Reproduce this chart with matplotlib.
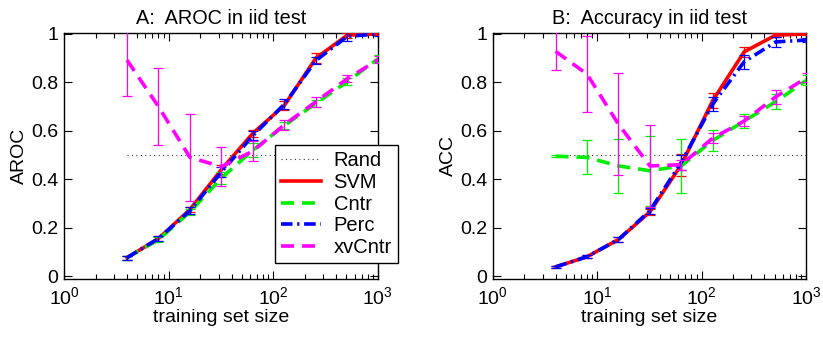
import matplotlib
matplotlib.use("Agg")
import matplotlib.pyplot as plt
from matplotlib.ticker import LogLocator, NullFormatter

plt.rcParams['font.family'] = ['Liberation Sans', 'DejaVu Sans']
plt.rcParams['mathtext.fontset'] = 'custom'
plt.rcParams['mathtext.rm'] = 'Liberation Sans'
plt.rcParams['mathtext.it'] = 'Liberation Sans'

sizes = [4, 8, 16, 32, 64, 128, 256, 512, 1024]

# Panel A: AROC
a_svm = [0.076, 0.155, 0.275, 0.44, 0.59, 0.705, 0.90, 0.995, 1.0]
a_svm_err = [0.008, 0.010, 0.012, 0.02, 0.015, 0.02, 0.02, 0.01, 0.005]
a_cntr = [0.076, 0.150, 0.265, 0.405, 0.52, 0.622, 0.713, 0.803, 0.90]
a_cntr_err = [0.008, 0.010, 0.012, 0.025, 0.03, 0.015, 0.015, 0.015, 0.015]
a_perc = [0.076, 0.155, 0.27, 0.43, 0.58, 0.71, 0.89, 0.99, 1.0]
a_perc_err = [0.008, 0.010, 0.015, 0.02, 0.02, 0.02, 0.015, 0.02, 0.01]
a_xv = [0.892, 0.70, 0.49, 0.452, 0.516, 0.625, 0.72, 0.815, 0.895]
a_xv_err = [0.148, 0.16, 0.18, 0.08, 0.042, 0.02, 0.02, 0.015, 0.015]

# Panel B: Accuracy
b_svm = [0.038, 0.08, 0.151, 0.265, 0.46, 0.725, 0.926, 0.995, 1.0]
b_svm_err = [0.005, 0.006, 0.01, 0.012, 0.045, 0.03, 0.02, 0.008, 0.005]
b_cntr = [0.495, 0.49, 0.455, 0.435, 0.455, 0.56, 0.64, 0.72, 0.81]
b_cntr_err = [0.004, 0.07, 0.11, 0.145, 0.11, 0.045, 0.03, 0.03, 0.02]
b_perc = [0.038, 0.08, 0.151, 0.27, 0.47, 0.71, 0.885, 0.967, 0.975]
b_perc_err = [0.005, 0.006, 0.01, 0.012, 0.03, 0.03, 0.03, 0.02, 0.01]
b_xv = [0.928, 0.834, 0.627, 0.455, 0.46, 0.57, 0.64, 0.74, 0.82]
b_xv_err = [0.078, 0.158, 0.21, 0.168, 0.02, 0.02, 0.02, 0.03, 0.02]

rand_level = 0.5
labels = ['Rand', 'SVM', 'Cntr', 'Perc', 'xvCntr']
titles = ['A:  AROC in iid test', 'B:  Accuracy in iid test']
ylabels = ['AROC', 'ACC']

fig = plt.figure(figsize=(8.23, 3.40), dpi=100)
ax1 = fig.add_axes([0.0778, 0.1794, 0.3812, 0.7244])
ax2 = fig.add_axes([0.5987, 0.1794, 0.3806, 0.7244])

styles = {
    'SVM': dict(color='#ff0000', ls='-'),
    'Cntr': dict(color='#00ee00', ls=(0, (3.6, 2.2))),
    'Perc': dict(color='#0000ff', ls=(0, (3.2, 1.3, 0.6, 1.3))),
    'xvCntr': dict(color='#ff00ff', ls=(0, (3.6, 2.2))),
}

def draw(ax, data, title, ylabel, legend=False):
    handles = []
    h, = ax.plot([sizes[0], sizes[-1]], [rand_level, rand_level], ls=(0, (1, 3)),
                 color='#333333', lw=0.8, zorder=2)
    handles.append(h)
    z = 3
    for name, (vals, errs) in data:
        st = styles[name]
        ax.errorbar(sizes, vals, yerr=errs, fmt='none', ecolor=st['color'],
                    elinewidth=0.9, capsize=3.8, capthick=0.9, zorder=z)
        h, = ax.plot(sizes, vals, color=st['color'], ls=st['ls'], lw=2.6, zorder=z + 0.5)
        handles.append(h)
        z += 1
    ax.set_xscale('log')
    ax.set_xlim(1, 1000)
    ax.set_ylim(-0.012, 1.005)
    ax.set_yticks([0, 0.2, 0.4, 0.6, 0.8, 1])
    ax.set_yticklabels(['0', '0.2', '0.4', '0.6', '0.8', '1'])
    ax.xaxis.set_major_locator(LogLocator(base=10, numticks=10))
    ax.xaxis.set_minor_locator(LogLocator(base=10, subs=range(2, 10), numticks=20))
    ax.xaxis.set_minor_formatter(NullFormatter())
    ax.tick_params(which='both', direction='in', top=True, right=True, labelsize=14)
    ax.tick_params(which='major', length=6, width=0.8)
    ax.tick_params(which='minor', length=3.5, width=0.8)
    ax.tick_params(axis='x', which='major', pad=5)
    ax.tick_params(axis='y', which='major', pad=4)
    for sp in ax.spines.values():
        sp.set_linewidth(1.0)
    ax.set_title(title, fontsize=14.3, pad=6)
    ax.set_ylabel(ylabel, fontsize=14, labelpad=2)
    ax.set_xlabel('training set size', fontsize=14, labelpad=1)
    if legend:
        leg = ax.legend(handles, labels, loc='lower left', bbox_to_anchor=(0.673, 0.065),
                        borderaxespad=0, fontsize=14.5, handlelength=2.0, labelspacing=0.13,
                        handletextpad=0.6, borderpad=0.3, fancybox=False, framealpha=1)
        leg.get_frame().set_edgecolor('black')
        leg.get_frame().set_linewidth(1.0)
        leg.set_zorder(10)
        leg.set_clip_on(False)

draw(ax1, [('SVM', (a_svm, a_svm_err)), ('Cntr', (a_cntr, a_cntr_err)),
           ('Perc', (a_perc, a_perc_err)), ('xvCntr', (a_xv, a_xv_err))],
     titles[0], ylabels[0], legend=True)
draw(ax2, [('SVM', (b_svm, b_svm_err)), ('Cntr', (b_cntr, b_cntr_err)),
           ('Perc', (b_perc, b_perc_err)), ('xvCntr', (b_xv, b_xv_err))],
     titles[1], ylabels[1])

fig.savefig('out.png', dpi=100)
